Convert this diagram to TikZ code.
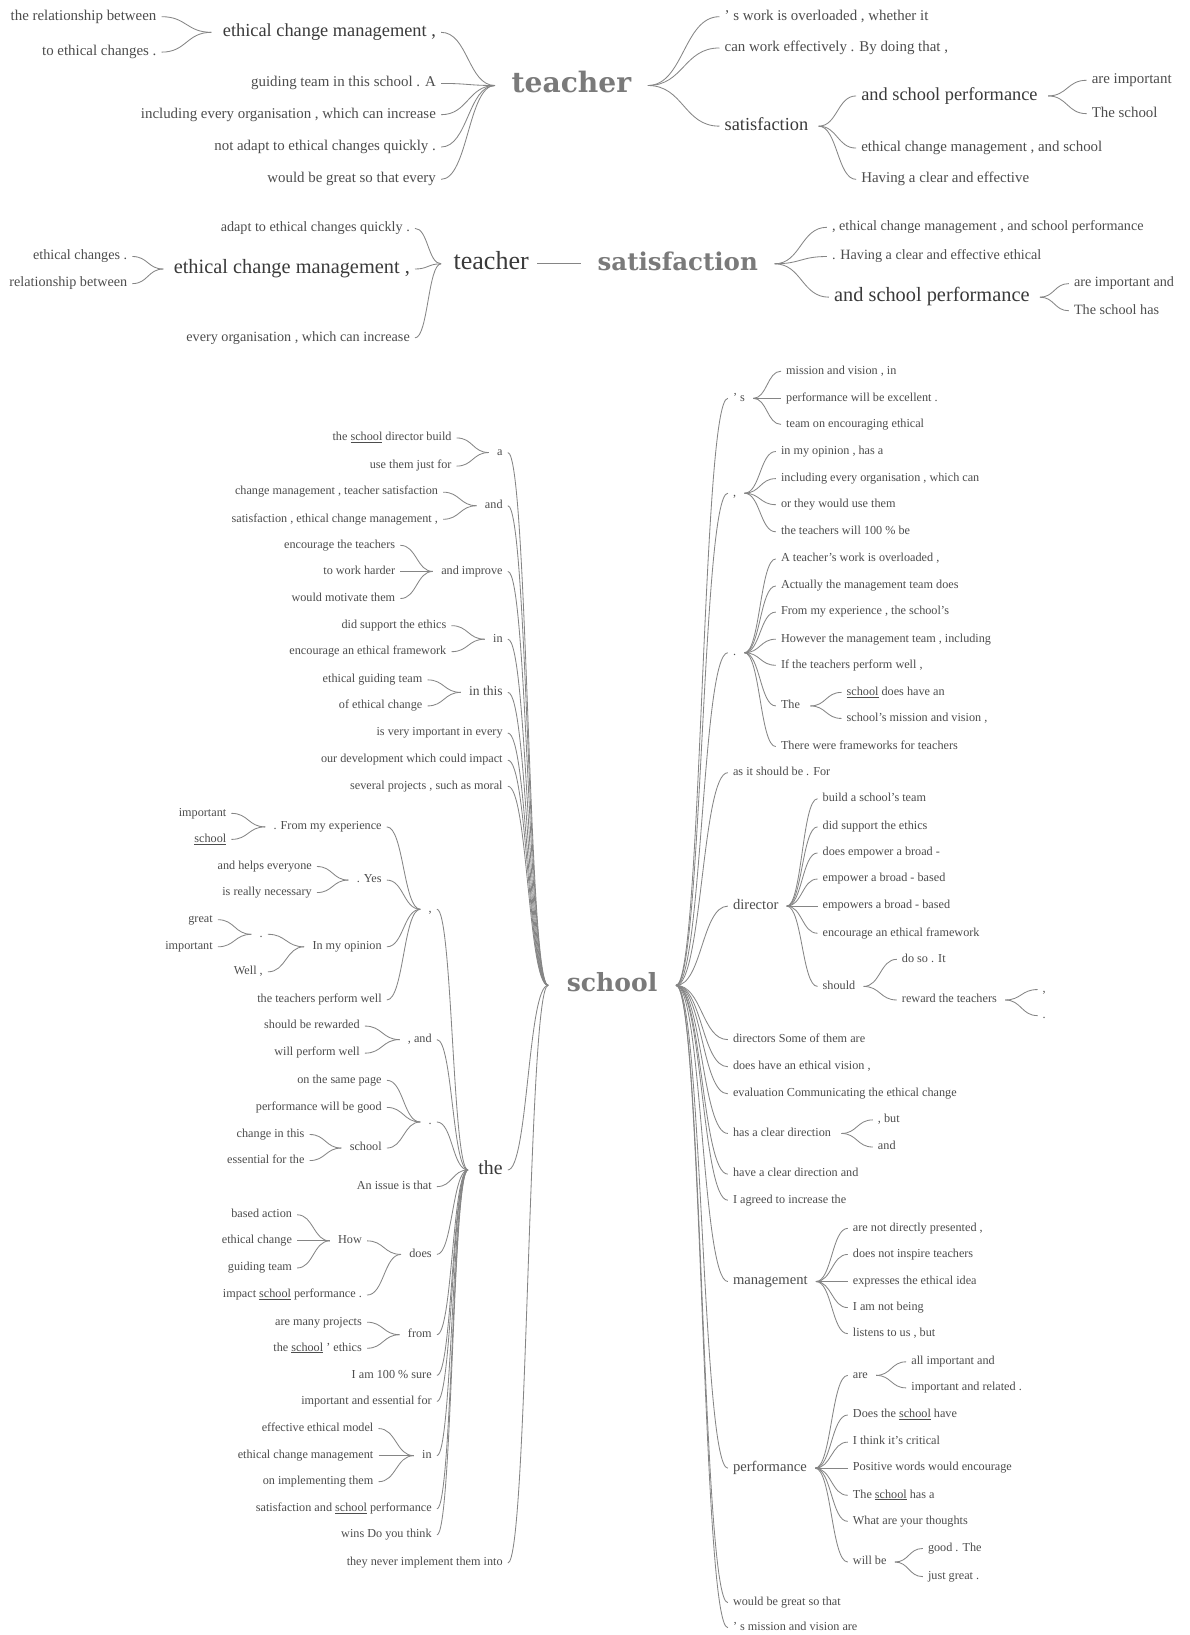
\documentclass[tikz,border=0pt]{standalone}
\usepackage{fontspec}
\setmainfont{Liberation Serif}
\newfontfamily\bigf{DejaVu Serif}
\usetikzlibrary{calc}
\definecolor{tx}{HTML}{4D4D4D}
\definecolor{tdk}{HTML}{3A3A3A}
\definecolor{bg}{HTML}{7A7A7A}
\definecolor{ln}{HTML}{858585}
\newcommand\lk[3]{\draw[conn] let \p1=([xshift=5pt]#1.east), \p2=([xshift=-#3pt]#2.west) in (\p1) .. controls ({(\x1+\x2)/2},\y1) and ({(\x1+\x2)/2},\y2) .. (\p2);}
\newcommand\rk[3]{\draw[conn] let \p1=([xshift=#3pt]#1.east), \p2=([xshift=-5pt]#2.west) in (\p1) .. controls ({(\x1+\x2)/2},\y1) and ({(\x1+\x2)/2},\y2) .. (\p2);}
\newcommand\lchild[6]{\node[L,#4] (#1) at (#5) {#6};\lk{#1}{#2}{#3}}
\newcommand\rchild[6]{\node[R,#4] (#1) at (#5) {#6};\rk{#2}{#1}{#3}}
\begin{document}
\begin{tikzpicture}[x=1pt,y=-1pt,
  conn/.style={draw=ln, line width=0.8pt},
  L/.style={anchor=east, inner sep=0pt, outer sep=0pt, text=tx},
  R/.style={anchor=west, inner sep=0pt, outer sep=0pt, text=tx},
  s1/.style={font=\fontsize{14.3}{16}\selectfont, text height=9.7pt, text depth=3.1pt},
  m1/.style={font=\fontsize{17.6}{20}\selectfont, text height=12pt, text depth=3.9pt, text=tdk},
  s2/.style={font=\fontsize{13.6}{16}\selectfont, text height=9.3pt, text depth=3pt},
  m2/.style={font=\fontsize{19.5}{22}\selectfont, text height=13.3pt, text depth=4.3pt, text=tdk},
  s3/.style={font=\fontsize{11.7}{13}\selectfont, text height=8pt, text depth=2.6pt},
  s3b/.style={font=\fontsize{13}{15}\selectfont, text height=8.8pt, text depth=2.9pt},
  m3/.style={font=\fontsize{14}{16}\selectfont, text height=9.5pt, text depth=3.1pt},
  mthe/.style={font=\fontsize{19}{21}\selectfont, text height=12.9pt, text depth=4.2pt, text=tdk},
  bigw/.style={inner sep=0pt, outer sep=0pt, text=bg, font=\bigf\bfseries\fontsize{#1}{#1}\selectfont}
]
\fill[white] (0,0) rectangle (1141,1568);
\useasboundingbox (0,0) rectangle (1141,1568);

% ---------------- section 1 ----------------
\node[bigw=27, text height=19.4pt, text depth=5.4pt] (T1) at (548,82) {teacher};
\lchild{A3}{T1}{16}{m1}{418,31}{ethical change management ,}
\lchild{A1}{A3}{11}{s1}{150,16}{the relationship between}
\lchild{A2}{A3}{11}{s1}{150,50}{to ethical changes .}
\lchild{A4}{T1}{16}{s1}{418,80}{guiding team in this school . A}
\lchild{A5}{T1}{16}{s1}{418,110}{including every organisation , which can increase}
\lchild{A6}{T1}{16}{s1}{418,141}{not adapt to ethical changes quickly .}
\lchild{A7}{T1}{16}{s1}{418,172}{would be great so that every}
\rchild{B1}{T1}{16}{s1}{695,16}{' s work is overloaded , whether it}
\rchild{B2}{T1}{16}{s1}{695,46}{can work effectively . By doing that ,}
\rchild{B3}{T1}{16}{m1}{695,121}{satisfaction}
\rchild{C1}{B3}{10}{m1}{826,92}{and school performance}
\rchild{C2}{B3}{10}{s1}{826,142}{ethical change management , and school}
\rchild{C3}{B3}{10}{s1}{826,172}{Having a clear and effective}
\rchild{D1}{C1}{10}{s1}{1047,77}{are important}
\rchild{D2}{C1}{10}{s1}{1047,109}{The school}

% ---------------- section 2 ----------------
\node[anchor=west, inner sep=0pt, outer sep=0pt, text=tdk, font=\fontsize{25}{27}\selectfont, text height=17pt, text depth=5.5pt] (T2) at (435,253) {teacher};
\node[bigw=23.5, text height=16.9pt, text depth=4.7pt] (S2) at (650,253) {satisfaction};
\draw[conn] ([xshift=8pt]T2.east) -- ([xshift=-16pt]S2.west);
\lchild{E3}{T2}{12}{m2}{393,258}{ethical change management ,}
\lchild{E1}{E3}{10}{s2}{122,246}{ethical changes .}
\lchild{E2}{E3}{10}{s2}{122,272}{relationship between}
\lchild{E4}{T2}{12}{s2}{393,219}{adapt to ethical changes quickly .}
\lchild{E5}{T2}{12}{s2}{393,324}{every organisation , which can increase}
\rchild{F1}{S2}{16}{s2}{798,218}{, ethical change management , and school performance}
\rchild{F2}{S2}{16}{s2}{798,246}{. Having a clear and effective ethical}
\rchild{F3}{S2}{16}{m2}{800,285}{and school performance}
\rchild{G1}{F3}{10}{s2}{1030,272}{are important and}
\rchild{G2}{F3}{10}{s2}{1030,298}{The school has}

% ---------------- section 3 ----------------
\node[bigw=24, text height=17.3pt, text depth=4.8pt] (SC) at (587,945) {school};
% left of school
\lchild{H1}{SC}{18}{s3}{482,434}{a}
\lchild{H1a}{H1}{8}{s3}{433,420}{the \underline{school} director build}
\lchild{H1b}{H1}{8}{s3}{433,447}{use them just for}
\lchild{H2}{SC}{18}{s3}{482,485}{and}
\lchild{H2a}{H2}{8}{s3}{420,472}{change management , teacher satisfaction}
\lchild{H2b}{H2}{8}{s3}{420,498}{satisfaction , ethical change management ,}
\lchild{H3}{SC}{18}{s3}{482,548}{and improve}
\lchild{H3a}{H3}{8}{s3}{379,523}{encourage the teachers}
\lchild{H3b}{H3}{8}{s3}{379,548}{to work harder}
\lchild{H3c}{H3}{8}{s3}{379,574}{would motivate them}
\lchild{H4}{SC}{18}{s3}{482,613}{in}
\lchild{H4a}{H4}{8}{s3}{428,600}{did support the ethics}
\lchild{H4b}{H4}{8}{s3}{428,625}{encourage an ethical framework}
\lchild{H5}{SC}{18}{s3b}{482,664}{in this}
\lchild{H5a}{H5}{8}{s3}{405,652}{ethical guiding team}
\lchild{H5b}{H5}{8}{s3}{405,677}{of ethical change}
\lchild{H6}{SC}{18}{s3}{482,703}{is very important in every}
\lchild{H7}{SC}{18}{s3}{482,729}{our development which could impact}
\lchild{H8}{SC}{18}{s3}{482,754}{several projects , such as moral}
\lchild{H9}{SC}{18}{mthe}{482,1122}{the}
\lchild{H10}{SC}{18}{s3}{482,1499}{they never implement them into}
% children of "the"
\lchild{I1}{H9}{10}{s3}{414,872}{,}
\lchild{J1}{I1}{8}{s3}{366,793}{. From my experience}
\lchild{J1a}{J1}{8}{s3}{217,780}{important}
\lchild{J1b}{J1}{8}{s3}{217,805}{\underline{school}}
\lchild{J2}{I1}{8}{s3}{366,844}{. Yes}
\lchild{J2a}{J2}{8}{s3}{299,831}{and helps everyone}
\lchild{J2b}{J2}{8}{s3}{299,856}{is really necessary}
\lchild{J3}{I1}{8}{s3}{366,908}{In my opinion}
\lchild{K1}{J3}{8}{s3}{252,896}{.}
\lchild{K1a}{K1}{8}{s3}{204,882}{great}
\lchild{K1b}{K1}{8}{s3}{204,908}{important}
\lchild{K2}{J3}{8}{s3}{252,932}{Well ,}
\lchild{J4}{I1}{8}{s3}{366,959}{the teachers perform well}
\lchild{I2}{H9}{10}{s3}{414,997}{, and}
\lchild{I2a}{I2}{8}{s3}{345,984}{should be rewarded}
\lchild{I2b}{I2}{8}{s3}{345,1010}{will perform well}
\lchild{I3}{H9}{10}{s3}{414,1076}{.}
\lchild{I3a}{I3}{8}{s3}{366,1036}{on the same page}
\lchild{I3b}{I3}{8}{s3}{366,1062}{performance will be good}
\lchild{I3c}{I3}{8}{s3}{366,1101}{school}
\lchild{I3d}{I3c}{8}{s3}{292,1088}{change in this}
\lchild{I3e}{I3c}{8}{s3}{292,1113}{essential for the}
\lchild{I4}{H9}{10}{s3}{414,1138}{An issue is that}
\lchild{I5}{H9}{10}{s3}{414,1203}{does}
\lchild{L1}{I5}{8}{s3}{347,1190}{How}
\lchild{L1a}{L1}{8}{s3}{280,1165}{based action}
\lchild{L1b}{L1}{8}{s3}{280,1190}{ethical change}
\lchild{L1c}{L1}{8}{s3}{280,1216}{guiding team}
\lchild{L2}{I5}{8}{s3}{347,1242}{impact \underline{school} performance .}
\lchild{I6}{H9}{10}{s3}{414,1280}{from}
\lchild{I6a}{I6}{8}{s3}{347,1268}{are many projects}
\lchild{I6b}{I6}{8}{s3}{347,1293}{the \underline{school} ' ethics}
\lchild{I7}{H9}{10}{s3}{414,1319}{I am 100 \% sure}
\lchild{I8}{H9}{10}{s3}{414,1344}{important and essential for}
\lchild{I9}{H9}{10}{s3}{414,1396}{in}
\lchild{I9a}{I9}{8}{s3}{358,1370}{effective ethical model}
\lchild{I9b}{I9}{8}{s3}{358,1396}{ethical change management}
\lchild{I9c}{I9}{8}{s3}{358,1421}{on implementing them}
\lchild{I10}{H9}{10}{s3}{414,1447}{satisfaction and \underline{school} performance}
\lchild{I11}{H9}{10}{s3}{414,1472}{wins Do you think}
% right of school
\rchild{R1}{SC}{18}{s3}{703,382}{' s}
\rchild{R1a}{R1}{8}{s3}{754,356}{mission and vision , in}
\rchild{R1b}{R1}{8}{s3}{754,382}{performance will be excellent .}
\rchild{R1c}{R1}{8}{s3}{754,407}{team on encouraging ethical}
\rchild{R2}{SC}{18}{s3}{703,473}{,}
\rchild{R2a}{R2}{8}{s3}{749,433}{in my opinion , has a}
\rchild{R2b}{R2}{8}{s3}{749,459}{including every organisation , which can}
\rchild{R2c}{R2}{8}{s3}{749,484}{or they would use them}
\rchild{R2d}{R2}{8}{s3}{749,510}{the teachers will 100 \% be}
\rchild{R3}{SC}{18}{s3}{703,626}{.}
\rchild{R3a}{R3}{8}{s3}{749,536}{A teacher's work is overloaded ,}
\rchild{R3b}{R3}{8}{s3}{749,562}{Actually the management team does}
\rchild{R3c}{R3}{8}{s3}{749,587}{From my experience , the school's}
\rchild{R3d}{R3}{8}{s3}{749,613}{However the management team , including}
\rchild{R3e}{R3}{8}{s3}{749,638}{If the teachers perform well ,}
\rchild{R3f}{R3}{8}{s3}{749,677}{The}
\rchild{R3g}{R3}{8}{s3}{749,716}{There were frameworks for teachers}
\rchild{R3f1}{R3f}{10}{s3}{812,664}{\underline{school} does have an}
\rchild{R3f2}{R3f}{10}{s3}{812,689}{school's mission and vision ,}
\rchild{R4}{SC}{18}{s3}{703,741}{as it should be . For}
\rchild{R5}{SC}{18}{m3}{703,869}{director}
\rchild{R5a}{R5}{8}{s3}{789,766}{build a school's team}
\rchild{R5b}{R5}{8}{s3}{789,793}{did support the ethics}
\rchild{R5c}{R5}{8}{s3}{789,818}{does empower a broad -}
\rchild{R5d}{R5}{8}{s3}{789,843}{empower a broad - based}
\rchild{R5e}{R5}{8}{s3}{789,869}{empowers a broad - based}
\rchild{R5f}{R5}{8}{s3}{789,895}{encourage an ethical framework}
\rchild{R5g}{R5}{8}{s3}{789,946}{should}
\rchild{R5g1}{R5g}{8}{s3}{865,920}{do so . It}
\rchild{R5g2}{R5g}{8}{s3}{865,959}{reward the teachers}
\rchild{R5h1}{R5g2}{8}{s3}{1000,949}{,}
\rchild{R5h2}{R5g2}{8}{s3}{1000,974}{.}
\rchild{R6}{SC}{18}{s3}{703,997}{directors Some of them are}
\rchild{R7}{SC}{18}{s3}{703,1023}{does have an ethical vision ,}
\rchild{R8}{SC}{18}{s3}{703,1049}{evaluation Communicating the ethical change}
\rchild{R9}{SC}{18}{s3}{703,1087}{has a clear direction}
\rchild{R9a}{R9}{10}{s3}{842,1074}{, but}
\rchild{R9b}{R9}{10}{s3}{842,1100}{and}
\rchild{R10}{SC}{18}{s3}{703,1126}{have a clear direction and}
\rchild{R11}{SC}{18}{s3}{703,1151}{I agreed to increase the}
\rchild{R12}{SC}{18}{m3}{703,1229}{management}
\rchild{R12a}{R12}{8}{s3}{818,1178}{are not directly presented ,}
\rchild{R12b}{R12}{8}{s3}{818,1203}{does not inspire teachers}
\rchild{R12c}{R12}{8}{s3}{818,1229}{expresses the ethical idea}
\rchild{R12d}{R12}{8}{s3}{818,1254}{I am not being}
\rchild{R12e}{R12}{8}{s3}{818,1279}{listens to us , but}
\rchild{R13}{SC}{18}{m3}{703,1408}{performance}
\rchild{R13a}{R13}{8}{s3}{818,1319}{are}
\rchild{R13a1}{R13a}{8}{s3}{874,1306}{all important and}
\rchild{R13a2}{R13a}{8}{s3}{874,1331}{important and related .}
\rchild{R13b}{R13}{8}{s3}{818,1357}{Does the \underline{school} have}
\rchild{R13c}{R13}{8}{s3}{818,1383}{I think it's critical}
\rchild{R13d}{R13}{8}{s3}{818,1408}{Positive words would encourage}
\rchild{R13e}{R13}{8}{s3}{818,1434}{The \underline{school} has a}
\rchild{R13f}{R13}{8}{s3}{818,1459}{What are your thoughts}
\rchild{R13g}{R13}{8}{s3}{818,1498}{will be}
\rchild{R13g1}{R13g}{8}{s3}{890,1485}{good . The}
\rchild{R13g2}{R13g}{8}{s3}{890,1512}{just great .}
\rchild{R14}{SC}{18}{s3}{703,1537}{would be great so that}
\rchild{R15}{SC}{18}{s3}{703,1561}{' s mission and vision are}
\end{tikzpicture}
\end{document}
